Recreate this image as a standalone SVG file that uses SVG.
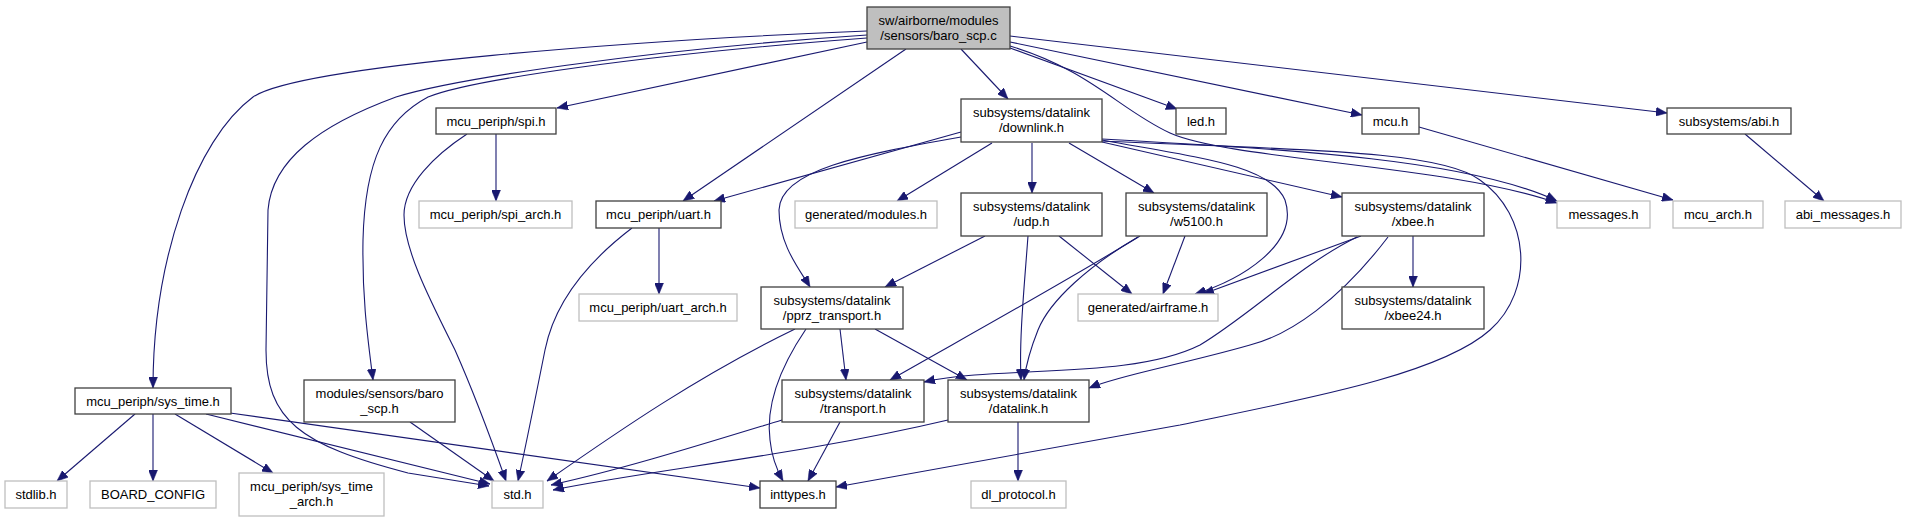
<svg xmlns="http://www.w3.org/2000/svg" width="1905" height="523" viewBox="0 0 1905 523">
<style>
.n rect{fill:#fff;stroke:#404040;stroke-width:1.3}
.g rect{fill:#fff;stroke:#bfbfbf;stroke-width:1.3}
.m rect{fill:#bfbfbf;stroke:#404040;stroke-width:1.3}
text{font-family:"Liberation Sans",Arial,sans-serif;font-size:13px;fill:#000;text-anchor:middle}
#edges path{fill:none;stroke:#191970;stroke-width:1.1;marker-end:url(#ah)}
</style>
<defs>
<marker id="ah" markerWidth="11" markerHeight="9" refX="11" refY="4.5" orient="auto" markerUnits="userSpaceOnUse">
<path d="M0,0 L11,4.5 L0,9 z" fill="#191970" stroke="#191970" stroke-width="0.5"/>
</marker>
</defs>
<rect width="1905" height="523" fill="#fff"/>
<g id="edges">
<path d="M867,42 L557,108"/>
<path d="M961,49 L1008,99"/>
<path d="M1010,48 L1177,109"/>
<path d="M1010,42 L1362,115"/>
<path d="M1010,36 L1667,113"/>
<path d="M1010,46 C1090,70 1120,110 1170,133 C1230,160 1450,165 1557,203"/>
<path d="M867,31 C640,40 300,65 253,97 C195,140 153,260 153,388"/>
<path d="M867,35 C640,50 450,80 396,97 C320,125 272,160 268,210 L266,350 C266,420 300,445 408,473 L489,486"/>
<path d="M867,38 C640,55 470,80 428,97 C385,120 365,160 363,240 C362,300 368,340 373,380"/>
<path d="M906,49 L683,201"/>
<path d="M961,132 L714,201"/>
<path d="M961,137 C860,155 780,170 779,210 C779,245 800,270 810,287"/>
<path d="M992,143 L897,201"/>
<path d="M1032,143 L1032,193"/>
<path d="M1069,143 L1154,193"/>
<path d="M1102,142 L1342,197"/>
<path d="M1102,140 C1200,158 1270,165 1285,200 C1300,245 1240,280 1195,294"/>
<path d="M1102,139 C1300,150 1470,160 1557,201"/>
<path d="M1102,141 C1300,150 1440,150 1480,180 C1530,215 1535,290 1490,330 C1440,375 1300,400 1180,425 L836,487"/>
<path d="M659,228 L659,294"/>
<path d="M632,228 C590,260 555,300 545,350 C535,400 525,450 518,481"/>
<path d="M496,134 L496,201"/>
<path d="M467,134 C435,155 404,185 404,215 C404,250 430,300 455,350 C475,395 495,450 506,481"/>
<path d="M985,236 L885,287"/>
<path d="M1028,236 C1024,290 1019,340 1021,380"/>
<path d="M1059,236 L1132,294"/>
<path d="M1185,236 L1163,294"/>
<path d="M1140,236 C1060,285 960,340 890,380"/>
<path d="M1138,237 C1090,265 1050,300 1038,330 C1030,350 1026,365 1024,380"/>
<path d="M1413,236 L1413,287"/>
<path d="M1361,236 L1203,294"/>
<path d="M1357,237 C1300,265 1250,315 1200,345 C1130,380 1000,365 924,382"/>
<path d="M1388,237 C1340,300 1290,335 1250,345 C1180,365 1120,375 1089,388"/>
<path d="M840,329 L846,380"/>
<path d="M875,329 L967,380"/>
<path d="M795,329 C700,375 620,430 547,481"/>
<path d="M806,329 C785,360 765,400 770,440 C772,460 778,472 783,481"/>
<path d="M782,420 C700,445 620,470 551,485"/>
<path d="M840,422 L808,481"/>
<path d="M948,420 C800,455 650,470 553,490"/>
<path d="M1018,422 L1018,481"/>
<path d="M135,414 L57,481"/>
<path d="M153,414 L153,481"/>
<path d="M175,414 L273,473"/>
<path d="M206,414 L490,484"/>
<path d="M230,413 L760,488"/>
<path d="M410,422 L494,481"/>
<path d="M1419,127 L1673,200"/>
<path d="M1745,134 L1824,201"/>
</g>
<g id="main" class="m"><rect x="867" y="7" width="143" height="42"/><text x="938.5" y="25">sw/airborne/modules</text><text x="938.5" y="40">/sensors/baro_scp.c</text></g>
<g id="spi" class="n"><rect x="436" y="108" width="120" height="26"/><text x="496" y="125.5">mcu_periph/spi.h</text></g>
<g id="downlink" class="n"><rect x="961" y="99" width="141" height="43"/><text x="1031.5" y="117">subsystems/datalink</text><text x="1031.5" y="132">/downlink.h</text></g>
<g id="led" class="n"><rect x="1176" y="108" width="50" height="26"/><text x="1201" y="125.5">led.h</text></g>
<g id="mcu" class="n"><rect x="1362" y="108" width="57" height="26"/><text x="1390.5" y="125.5">mcu.h</text></g>
<g id="abi" class="n"><rect x="1667" y="108" width="124" height="26"/><text x="1729" y="125.5">subsystems/abi.h</text></g>
<g id="spi_arch" class="g"><rect x="419" y="201" width="153" height="27"/><text x="495.5" y="219">mcu_periph/spi_arch.h</text></g>
<g id="uart" class="n"><rect x="596" y="201" width="125" height="27"/><text x="658.5" y="219">mcu_periph/uart.h</text></g>
<g id="modules" class="g"><rect x="795" y="201" width="142" height="27"/><text x="866" y="219">generated/modules.h</text></g>
<g id="udp" class="n"><rect x="961" y="193" width="141" height="43"/><text x="1031.5" y="211">subsystems/datalink</text><text x="1031.5" y="226">/udp.h</text></g>
<g id="w5100" class="n"><rect x="1126" y="193" width="141" height="43"/><text x="1196.5" y="211">subsystems/datalink</text><text x="1196.5" y="226">/w5100.h</text></g>
<g id="xbee" class="n"><rect x="1342" y="193" width="142" height="43"/><text x="1413" y="211">subsystems/datalink</text><text x="1413" y="226">/xbee.h</text></g>
<g id="messages" class="g"><rect x="1557" y="201" width="93" height="27"/><text x="1603.5" y="219">messages.h</text></g>
<g id="mcu_arch" class="g"><rect x="1673" y="201" width="90" height="27"/><text x="1718" y="219">mcu_arch.h</text></g>
<g id="abi_messages" class="g"><rect x="1785" y="201" width="116" height="27"/><text x="1843" y="219">abi_messages.h</text></g>
<g id="uart_arch" class="g"><rect x="579" y="294" width="158" height="27"/><text x="658" y="312">mcu_periph/uart_arch.h</text></g>
<g id="pprz" class="n"><rect x="761" y="287" width="142" height="42"/><text x="832" y="305">subsystems/datalink</text><text x="832" y="320">/pprz_transport.h</text></g>
<g id="airframe" class="g"><rect x="1078" y="294" width="140" height="27"/><text x="1148" y="312">generated/airframe.h</text></g>
<g id="xbee24" class="n"><rect x="1342" y="287" width="142" height="42"/><text x="1413" y="305">subsystems/datalink</text><text x="1413" y="320">/xbee24.h</text></g>
<g id="sys_time" class="n"><rect x="75" y="388" width="156" height="26"/><text x="153" y="405.5">mcu_periph/sys_time.h</text></g>
<g id="baro_scp" class="n"><rect x="304" y="380" width="151" height="42"/><text x="379.5" y="398">modules/sensors/baro</text><text x="379.5" y="413">_scp.h</text></g>
<g id="transport" class="n"><rect x="782" y="380" width="142" height="42"/><text x="853" y="398">subsystems/datalink</text><text x="853" y="413">/transport.h</text></g>
<g id="datalink" class="n"><rect x="948" y="380" width="141" height="42"/><text x="1018.5" y="398">subsystems/datalink</text><text x="1018.5" y="413">/datalink.h</text></g>
<g id="stdlib" class="g"><rect x="5" y="481" width="62" height="27"/><text x="36" y="499">stdlib.h</text></g>
<g id="board" class="g"><rect x="90" y="481" width="126" height="27"/><text x="153" y="499">BOARD_CONFIG</text></g>
<g id="sys_time_arch" class="g"><rect x="239" y="473" width="145" height="43"/><text x="311.5" y="491">mcu_periph/sys_time</text><text x="311.5" y="506">_arch.h</text></g>
<g id="std" class="g"><rect x="492" y="481" width="51" height="27"/><text x="517.5" y="499">std.h</text></g>
<g id="inttypes" class="n"><rect x="760" y="481" width="76" height="27"/><text x="798" y="499">inttypes.h</text></g>
<g id="dl_protocol" class="g"><rect x="971" y="481" width="95" height="27"/><text x="1018.5" y="499">dl_protocol.h</text></g>
</svg>
